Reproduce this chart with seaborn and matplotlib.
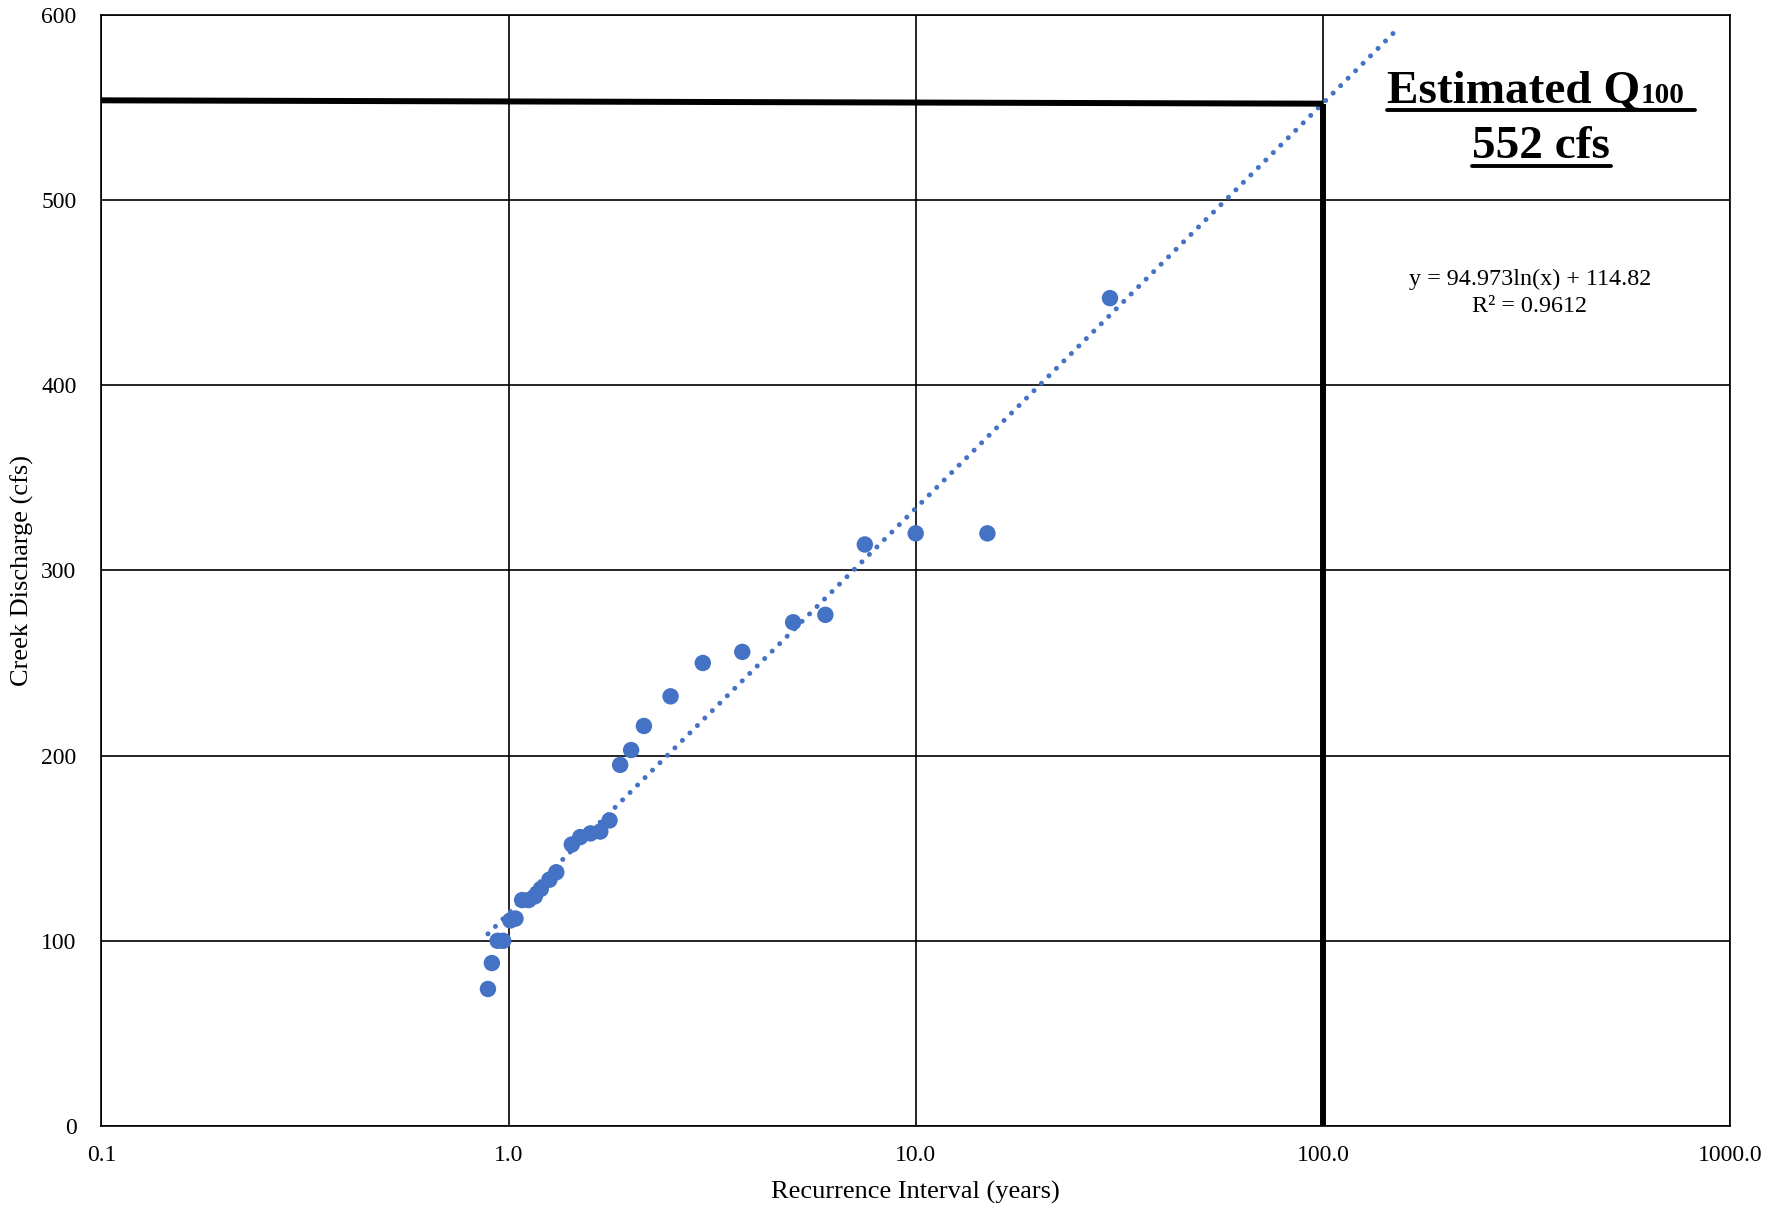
import numpy as np
import pandas as pd
import matplotlib
matplotlib.use("Agg")
import matplotlib.pyplot as plt
import seaborn as sns

# Annual peak discharges with their recurrence intervals
recurrence_years = [30.0, 15.0, 10.0, 7.5, 6.0, 5.0, 3.75, 3.0, 2.5, 2.15, 2.0,
                    1.88, 1.77, 1.68, 1.59, 1.5, 1.43, 1.31, 1.26, 1.2, 1.16,
                    1.12, 1.08, 1.04, 1.01, 0.97, 0.94, 0.91, 0.89]
discharge_cfs = [447, 320, 320, 314, 276, 272, 256, 250, 232, 216, 203,
                 195, 165, 159, 158, 156, 152, 137, 133, 128, 124,
                 122, 122, 112, 111, 100, 100, 88, 74]

# Logarithmic trendline reported on the chart
trend_slope = 94.973
trend_intercept = 114.82
trend_r2 = 0.9612
trend_x_end = 150.0

# Q100 estimate read-off lines
q100_left = 553.8
q100_value = 552
q100_interval = 100.0

x_ticks = [0.1, 1.0, 10.0, 100.0, 1000.0]
x_tick_labels = ["0.1", "1.0", "10.0", "100.0", "1000.0"]
y_ticks = [0, 100, 200, 300, 400, 500, 600]

sns.set_theme(style="white")
plt.rcParams["font.family"] = ["Liberation Serif", "DejaVu Serif"]

blue = "#4472C4"
df = pd.DataFrame({"Recurrence Interval (years)": recurrence_years,
                   "Creek Discharge (cfs)": discharge_cfs})

fig = plt.figure(figsize=(17.85, 12.10), dpi=100)
ax = fig.add_axes([0.0568, 0.0694, 0.9124, 0.9184])

ax.set_xscale("log")
ax.set_xlim(0.1, 1000)
ax.set_ylim(0, 600)

# grid
ax.grid(True, which="major", color="black", linewidth=1.2, zorder=0)
ax.set_axisbelow(True)
for sp in ax.spines.values():
    sp.set_color("black")
    sp.set_linewidth(1.2)

# trendline
tx = np.geomspace(min(recurrence_years), trend_x_end, 300)
ty = trend_slope * np.log(tx) + trend_intercept
trend_df = pd.DataFrame({"x": tx, "y": ty})
sns.lineplot(data=trend_df, x="x", y="y", ax=ax, color=blue, linewidth=3.6,
             dashes=False, zorder=3)
ax.lines[-1].set_dashes((0.01, 2.1))
ax.lines[-1].set_dash_capstyle("round")

# data points
sns.scatterplot(data=df, x="Recurrence Interval (years)", y="Creek Discharge (cfs)",
                ax=ax, color=blue, s=140, edgecolor="none", zorder=4)

# Q100 read-off lines
ax.plot([0.1, q100_interval], [q100_left, q100_value], color="black",
        linewidth=4.3, solid_capstyle="butt", zorder=5)
ax.plot([q100_interval, q100_interval], [q100_value, 0], color="black",
        linewidth=4.3, solid_capstyle="butt", zorder=5)

ax.set_xticks(x_ticks)
ax.set_xticklabels(x_tick_labels)
ax.set_yticks(y_ticks)
ax.xaxis.set_minor_locator(matplotlib.ticker.NullLocator())
ax.tick_params(axis="both", which="both", length=0, labelsize=17, colors="black")
ax.tick_params(axis="x", pad=13.5)
ax.tick_params(axis="y", pad=18)

ax.set_xlabel("Recurrence Interval (years)", fontsize=19, color="black", labelpad=11)
ax.set_ylabel("Creek Discharge (cfs)", fontsize=19, color="black", labelpad=5)

# Estimated Q100 annotation (figure pixel coordinates -> fraction)
W, H = 1785, 1210
def fx(px):
    return px / W
def fy(py):
    return 1 - py / H

fig.text(fx(1387), fy(103), "Estimated Q", fontsize=34, fontweight="bold",
         ha="left", va="baseline", color="black")
fig.text(fx(1641), fy(103), "100", fontsize=21, fontweight="bold",
         ha="left", va="baseline", color="black")
fig.add_artist(plt.Line2D([fx(1387), fx(1695)], [fy(110), fy(110)],
                          color="black", linewidth=2.8, transform=fig.transFigure))
fig.text(fx(1541), fy(158), f"{q100_value} cfs", fontsize=34, fontweight="bold",
         ha="center", va="baseline", color="black")
fig.add_artist(plt.Line2D([fx(1472), fx(1611)], [fy(166), fy(166)],
                          color="black", linewidth=2.8, transform=fig.transFigure))

# trendline equation
fig.text(fx(1530), fy(285), f"y = {trend_slope}ln(x) + {trend_intercept}",
         fontsize=17.4, ha="center", va="baseline", color="black")
fig.text(fx(1529), fy(312), f"R² = {trend_r2}", fontsize=17.4,
         ha="center", va="baseline", color="black")

fig.savefig("out.png", dpi=100)
